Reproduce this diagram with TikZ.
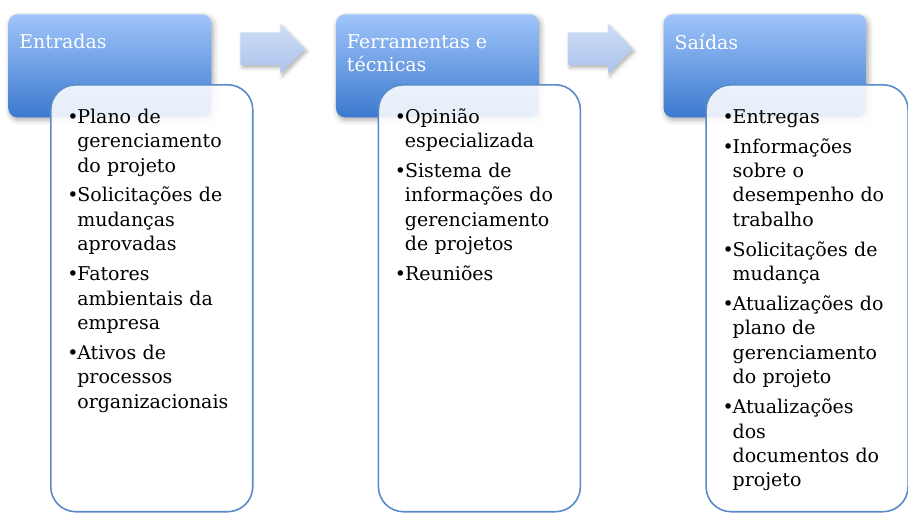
\documentclass[tikz,border=0pt]{standalone}
\usepackage{fontspec}
\setmainfont{DejaVu Serif}
\usetikzlibrary{shapes.arrows, positioning, calc, shadows.blur}

\definecolor{headtop}{RGB}{160,197,250}
\definecolor{headbottom}{RGB}{60,121,206}
\definecolor{listborder}{RGB}{88,137,201}
\definecolor{arrowtop}{RGB}{206,221,244}
\definecolor{arrowbottom}{RGB}{170,196,236}

\newcommand{\bitem}{\par\hangindent=0.2cm\hangafter=1\noindent\makebox[0.2cm][l]{•}}

\begin{document}
\begin{tikzpicture}[
        x=0.02cm, y=-0.02cm,
        node distance=2.48cm,
        header/.style={
            rectangle,
            anchor=north west,
            minimum width=4.06cm,
            minimum height=2.06cm,
            inner sep=0pt,
            rounded corners=0.18cm,
            top color=headtop,
            bottom color=headbottom,
            blur shadow={shadow xshift=1pt, shadow yshift=-1.5pt, shadow blur radius=3pt, shadow opacity=35}
        },
        headtext/.style={
            anchor=north west,
            inner sep=0pt,
            align=left,
            text=white,
            font=\fontsize{10.8}{13}\selectfont
        },
        listbox/.style={
            rectangle,
            anchor=north west,
            minimum width=4.04cm,
            minimum height=8.54cm,
            rounded corners=0.5cm,
            draw=listborder,
            line width=0.9pt,
            fill=white,
            fill opacity=0.88,
            text opacity=1
        },
        listtext/.style={
            anchor=north west,
            inner sep=0pt,
            text width=3.5cm,
            align=left,
            font=\fontsize{10.8}{13.9}\selectfont\setlength{\parskip}{3.1pt}
        },
        flow/.style={
            single arrow,
            single arrow head extend=0.17cm,
            text height=0.64cm,
            text depth=0pt,
            minimum height=1.3cm,
            inner sep=0pt,
            top color=arrowtop,
            bottom color=arrowbottom,
            blur shadow={shadow xshift=1pt, shadow yshift=-1.5pt, shadow blur radius=2pt, shadow opacity=30}
        }
    ]

    \useasboundingbox (0,0) rectangle (908,525);

    % cabecalhos
    \node (inputs) [header] at (8,14) {};
    \node (tools) [header, right=of inputs] {};
    \node (outputs) [header, right=of tools] {};

    \node (inputs_title) [headtext] at ($(inputs.north west)+(11,20)$) {Entradas};
    \node (tools_title) [headtext] at ($(tools.north west)+(11,20)$) {Ferramentas e\\técnicas};
    \node (outputs_title) [headtext] at ($(outputs.north west)+(11,20)$) {Saídas};

    % setas
    \node (arrow_a) [flow] at ($(inputs.east)!0.5!(tools.west)+(-9,-17)$) {};
    \node (arrow_b) [flow] at ($(tools.east)!0.5!(outputs.west)+(-9,-17)$) {};

    % listas
    \node (inputs_box) [listbox] at ($(inputs.north west)+(42,70)$) {};
    \node (tools_box) [listbox] at ($(tools.north west)+(42,70)$) {};
    \node (outputs_box) [listbox] at ($(outputs.north west)+(42,70)$) {};

    \node (inputs_list) [listtext] at ($(inputs_box.north west)+(17,9)$) {
        \bitem Plano de\newline gerenciamento\newline do projeto
        \bitem Solicitações de\newline mudanças\newline aprovadas
        \bitem Fatores\newline ambientais da\newline empresa
        \bitem Ativos de\newline processos\newline organizacionais\par};

    \node (tools_list) [listtext] at ($(tools_box.north west)+(17,9)$) {
        \bitem Opinião\newline especializada
        \bitem Sistema de\newline informações do\newline gerenciamento\newline de projetos
        \bitem Reuniões\par};

    \node (outputs_list) [listtext] at ($(outputs_box.north west)+(17,9)$) {
        \bitem Entregas
        \bitem Informações\newline sobre o\newline desempenho do\newline trabalho
        \bitem Solicitações de\newline mudança
        \bitem Atualizações do\newline plano de\newline gerenciamento\newline do projeto
        \bitem Atualizações\newline dos\newline documentos do\newline projeto\par};

\end{tikzpicture}
\end{document}
